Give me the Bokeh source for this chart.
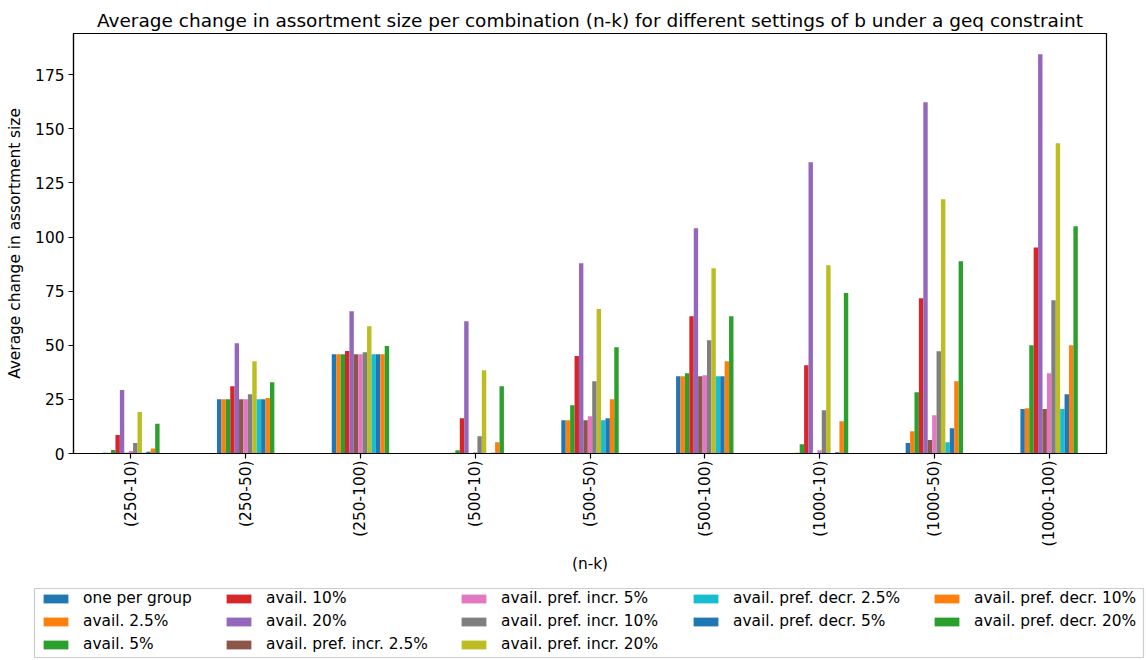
import math
from bokeh.plotting import figure
from bokeh.models import FactorRange, Range1d, FixedTicker, Legend, LegendItem
from bokeh.transform import dodge
from bokeh.embed import file_html
from bokeh.resources import INLINE

cats = ["(250-10)", "(250-50)", "(250-100)", "(500-10)", "(500-50)",
        "(500-100)", "(1000-10)", "(1000-50)", "(1000-100)"]

series_names = ["one per group", "avail. 2.5%", "avail. 5%", "avail. 10%", "avail. 20%",
                "avail. pref. incr. 2.5%", "avail. pref. incr. 5%", "avail. pref. incr. 10%",
                "avail. pref. incr. 20%", "avail. pref. decr. 2.5%", "avail. pref. decr. 5%",
                "avail. pref. decr. 10%", "avail. pref. decr. 20%"]

one_per_group = [0.3, 25.1, 45.9, 0.1, 15.4, 35.7, 0.1, 4.8, 20.5]
avail_2_5 = [0.3, 25.1, 45.9, 0.3, 15.4, 35.7, 0.3, 10.3, 20.9]
avail_5 = [1.6, 25.1, 45.9, 1.5, 22.3, 37.1, 4.3, 28.3, 50.0]
avail_10 = [8.5, 31.1, 47.3, 16.3, 45.0, 63.4, 40.8, 71.7, 95.2]
avail_20 = [29.3, 50.9, 65.7, 61.1, 87.9, 104.0, 134.5, 162.2, 184.4]
incr_2_5 = [0.4, 25.1, 45.9, 0.2, 15.4, 35.7, 0.2, 6.2, 20.5]
incr_5 = [1.2, 25.1, 45.9, 0.6, 17.2, 36.2, 1.5, 17.7, 37.1]
incr_10 = [4.8, 27.4, 46.8, 8.0, 33.4, 52.3, 20.0, 47.2, 70.8]
incr_20 = [19.2, 42.6, 58.8, 38.5, 66.7, 85.6, 86.9, 117.4, 143.3]
decr_2_5 = [0.3, 25.1, 45.9, 0.2, 15.4, 35.7, 0.2, 5.2, 20.5]
decr_5 = [0.8, 25.1, 45.9, 0.3, 16.3, 35.7, 0.6, 11.7, 27.4]
decr_10 = [2.3, 25.6, 45.9, 5.2, 25.1, 42.6, 14.9, 33.4, 50.0]
decr_20 = [13.7, 32.9, 49.6, 31.1, 49.1, 63.4, 74.1, 88.8, 105.0]

all_series = [one_per_group, avail_2_5, avail_5, avail_10, avail_20, incr_2_5, incr_5,
              incr_10, incr_20, decr_2_5, decr_5, decr_10, decr_20]

colors = ["#1f77b4", "#ff7f0e", "#2ca02c", "#d62728", "#9467bd", "#8c564b", "#e377c2",
          "#7f7f7f", "#bcbd22", "#17becf", "#1f77b4", "#ff7f0e", "#2ca02c"]

yticks = [0, 25, 50, 75, 100, 125, 150, 175]

FONT = "DejaVu Sans"
FS = "15.4px"

p = figure(x_range=FactorRange(*cats, range_padding=0), y_range=Range1d(0, 194),
           width=1146, height=587, output_backend="svg", toolbar_location=None,
           min_border_left=73, min_border_right=40, min_border_top=33, min_border_bottom=134,
           title="Average change in assortment size per combination (n-k) for different settings of b under a geq constraint")

p.title.align = "center"
p.title.text_font = FONT
p.title.text_font_size = "18.5px"
p.title.text_font_style = "normal"
p.title.text_color = "black"
p.title.standoff = 5

n = len(all_series)
total_w = 0.5
w = total_w / n
for j, (vals, col) in enumerate(zip(all_series, colors)):
    off = -total_w / 2 + (j + 0.5) * w
    p.vbar(x=dodge("x", off, range=p.x_range), top="top", width=w, bottom=0,
           source=dict(x=cats, top=vals), fill_color=col, line_color=None)

p.xgrid.visible = False
p.ygrid.visible = False
p.outline_line_color = "black"
p.outline_line_width = 1.2

for ax in (p.xaxis[0], p.yaxis[0]):
    ax.axis_line_color = "black"
    ax.axis_line_width = 1.2
    ax.major_tick_line_color = "black"
    ax.major_tick_line_width = 1.2
    ax.major_tick_out = 5
    ax.major_tick_in = 0
    ax.minor_tick_out = 0
    ax.minor_tick_in = 0
    ax.major_label_text_font = FONT
    ax.major_label_text_font_size = FS
    ax.major_label_text_color = "black"
    ax.axis_label_text_font = FONT
    ax.axis_label_text_font_size = FS
    ax.axis_label_text_font_style = "normal"
    ax.axis_label_text_color = "black"

p.yaxis[0].ticker = FixedTicker(ticks=yticks)
p.yaxis[0].axis_label = "Average change in assortment size"
p.yaxis[0].major_label_standoff = 4
p.yaxis[0].axis_label_standoff = 8
p.xaxis[0].axis_label = "(n-k)"
p.xaxis[0].major_label_orientation = math.pi / 2
p.xaxis[0].major_label_standoff = 2
p.xaxis[0].axis_label_standoff = 5

# legend panel: its frame is the legend box, holding five legend columns
lg = figure(width=1146, height=73, output_backend="svg", toolbar_location=None,
            x_axis_type=None, y_axis_type=None, x_range=Range1d(0, 1), y_range=Range1d(0, 1),
            min_border_left=34, min_border_right=3, min_border_top=1, min_border_bottom=3)
lg.xgrid.visible = False
lg.ygrid.visible = False
lg.outline_line_color = "#cccccc"
lg.outline_line_width = 1.2

swatches = [lg.vbar(x=[-1.0], top=[0.0], width=0.0, fill_color=c, line_color=None) for c in colors]

col_groups = [[0, 1, 2], [3, 4, 5], [6, 7, 8], [9, 10], [11, 12]]
col_x = [6, 189, 424, 656, 897]
ROW_H = 18
GAP = 5
for grp, cx in zip(col_groups, col_x):
    items = [LegendItem(label=series_names[i], renderers=[swatches[i]]) for i in grp]
    nrows = len(grp)
    h = nrows * ROW_H + (nrows - 1) * GAP
    leg = Legend(items=items, orientation="vertical", location=(cx, 69 - 1 - h),
                 label_text_font=FONT, label_text_font_size=FS, label_text_color="black",
                 glyph_width=31, glyph_height=11, label_standoff=12,
                 label_height=ROW_H, spacing=GAP, padding=0, margin=0,
                 border_line_color=None, background_fill_alpha=0)
    lg.add_layout(leg, "center")

open("out.html", "w").write(file_html([p, lg], INLINE))
